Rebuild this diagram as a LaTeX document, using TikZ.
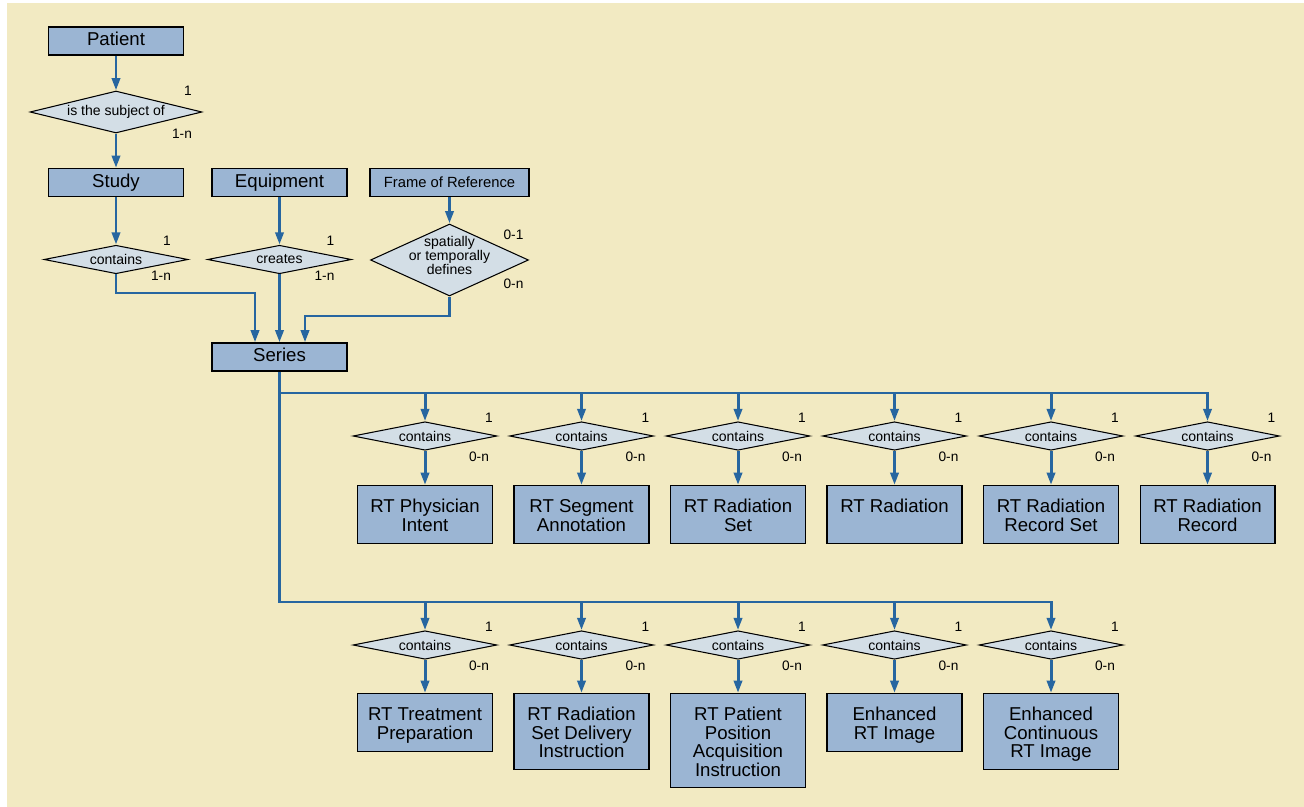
\documentclass[tikz,border=0pt]{standalone}
\usepackage{fontspec}
\setmainfont{Liberation Sans}
\usetikzlibrary{shapes.geometric,arrows.meta,calc}
\definecolor{paper}{HTML}{F2EAC2}
\definecolor{boxblue}{HTML}{9BB5D3}
\definecolor{relgray}{HTML}{D3DEE6}
\definecolor{linkblue}{HTML}{2766A0}
\begin{document}
\begin{tikzpicture}[x=0.02cm,y=-0.02cm,
  >={Triangle[length=7pt,width=4.6pt]},
  link/.style={->,linkblue,line width=1.7pt},
  entity/.style={draw,fill=boxblue,line width=0.6pt,minimum width=2.7cm,minimum height=0.56cm,inner sep=0pt,text height=7.7pt,text depth=2.2pt,font=\fontsize{10.6}{10.6}\selectfont},
  leaf/.style={draw,fill=boxblue,line width=0.6pt,anchor=north,align=center,minimum width=2.7cm,inner xsep=2pt,inner ysep=3pt,text height=22.9pt,text depth=4pt,font=\fontsize{10.6}{10.6}\selectfont},
  rel/.style={diamond,draw,fill=relgray,line width=0.6pt,aspect=5,inner sep=0pt,minimum width=2.88cm,minimum height=0.57cm,font=\fontsize{8}{8.2}\selectfont},
  card/.style={inner sep=0pt,font=\fontsize{7.8}{7.8}\selectfont},
  contains/.style={rel,label={[card,xshift=1.28cm,yshift=0.36cm]center:1},label={[card,xshift=1.08cm,yshift=-0.42cm]center:0-n}}]
\useasboundingbox (0,0) rectangle (1304,807);
\fill[paper] (7,3) rectangle (1304,807);
% upper part
\node[entity] (patient) at (116,41) {Patient};
\node[rel,aspect=4,minimum width=3.44cm,minimum height=0.84cm] (subject) at (116,112) {is the subject of};
\node[entity] (study) at (116,182.5) {Study};
\node[entity] (equipment) at (279.5,182.5) {Equipment};
\node[entity,minimum width=3.18cm,font=\fontsize{8.4}{8.4}\selectfont] (frame) at (449.5,182.5) {Frame of Reference};
\node[rel] (studyrel) at (116,259.5) {contains};
\node[rel] (equiprel) at (279.5,259.5) {creates};
\node[rel,align=center,aspect=2.2,minimum width=3.16cm,minimum height=1.44cm,text height=17pt,text depth=-11pt] (framerel) at (449.5,260) {spatially\\or temporally\\defines};
\node[entity] (series) at (279.5,357) {Series};
\node[card] (subject1) at ($(subject)+(72,-21)$) {1};
\node[card] (subjectn) at ($(subject)+(66,22)$) {1-n};
\node[card] (studyrel1) at ($(studyrel)+(51,-18.5)$) {1};
\node[card] (studyreln) at ($(studyrel)+(45,16.5)$) {1-n};
\node[card] (equiprel1) at ($(equiprel)+(51,-18.5)$) {1};
\node[card] (equipreln) at ($(equiprel)+(45,16.5)$) {1-n};
\node[card] (framerel1) at ($(framerel)+(64,-25)$) {0-1};
\node[card] (framereln) at ($(framerel)+(64,24)$) {0-n};
\coordinate (join1) at (255,293);
\coordinate (join2) at (305,316);
\draw[link] (patient) -- (subject);
\draw[link] (subject) -- (study);
\draw[link] (study) -- (studyrel);
\draw[link] (equipment) -- (equiprel);
\draw[link] (frame) -- (framerel);
\draw[link] (studyrel.south) |- (join1) -- (join1 |- series.north);
\draw[link] (equiprel) -- (series);
\draw[link] (framerel.south) |- (join2) -- (join2 |- series.north);
% first row
\coordinate (bus1) at (0,393);
\coordinate (bus2) at (0,602);
\node[contains] (c1) at (425,436) {contains};
\node[contains] (c2) at (581.5,436) {contains};
\node[contains] (c3) at (738,436) {contains};
\node[contains] (c4) at (894.5,436) {contains};
\node[contains] (c5) at (1051,436) {contains};
\node[contains] (c6) at (1207.5,436) {contains};
\node[leaf] (physician) at (425,485) {RT Physician\\Intent};
\node[leaf] (segment) at (581.5,485) {RT Segment\\Annotation};
\node[leaf] (radset) at (738,485) {RT Radiation\\Set};
\node[leaf,text height=12.3pt,text depth=14.6pt] (radiation) at (894.5,485) {RT Radiation};
\node[leaf] (recordset) at (1051,485) {RT Radiation\\Record Set};
\node[leaf] (record) at (1207.5,485) {RT Radiation\\Record};
% second row
\node[contains] (c7) at (425,645) {contains};
\node[contains] (c8) at (581.5,645) {contains};
\node[contains] (c9) at (738,645) {contains};
\node[contains] (c10) at (894.5,645) {contains};
\node[contains] (c11) at (1051,645) {contains};
\node[leaf] (preparation) at (425,693) {RT Treatment\\Preparation};
\node[leaf,text height=33.5pt,text depth=3.6pt] (delivery) at (581.5,693) {RT Radiation\\Set Delivery\\Instruction};
\node[leaf,text height=44.1pt,text depth=3.2pt] (position) at (738,693) {RT Patient\\Position\\Acquisition\\Instruction};
\node[leaf] (enhanced) at (894.5,693) {Enhanced\\RT Image};
\node[leaf,text height=33.5pt,text depth=3.6pt] (continuous) at (1051,693) {Enhanced\\Continuous\\RT Image};
% series to rows
\draw[link] (series.south) |- (bus2 -| c11.north) -- (c11.north);
\draw[link] (series.south |- bus1) -- (bus1 -| c6.north) -- (c6.north);
\draw[link] (bus1 -| c1.north) -- (c1.north);
\draw[link] (bus1 -| c2.north) -- (c2.north);
\draw[link] (bus1 -| c3.north) -- (c3.north);
\draw[link] (bus1 -| c4.north) -- (c4.north);
\draw[link] (bus1 -| c5.north) -- (c5.north);
\draw[link] (bus2 -| c7.north) -- (c7.north);
\draw[link] (bus2 -| c8.north) -- (c8.north);
\draw[link] (bus2 -| c9.north) -- (c9.north);
\draw[link] (bus2 -| c10.north) -- (c10.north);
\draw[link] (c1) -- (physician);
\draw[link] (c2) -- (segment);
\draw[link] (c3) -- (radset);
\draw[link] (c4) -- (radiation);
\draw[link] (c5) -- (recordset);
\draw[link] (c6) -- (record);
\draw[link] (c7) -- (preparation);
\draw[link] (c8) -- (delivery);
\draw[link] (c9) -- (position);
\draw[link] (c10) -- (enhanced);
\draw[link] (c11) -- (continuous);
\end{tikzpicture}
\end{document}
